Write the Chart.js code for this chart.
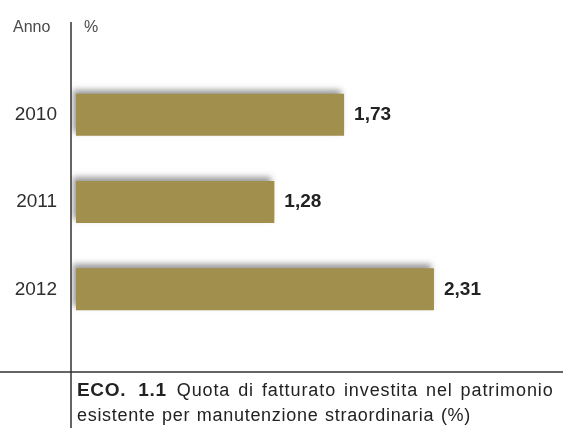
<!DOCTYPE html>
<html lang="it">
<head>
<meta charset="utf-8">
<script src="https://cdn.jsdelivr.net/npm/chart.js@4/dist/chart.umd.min.js"></script>
<style>
  html, body { margin: 0; padding: 0; background: #fff; }
  #wrap { position: relative; width: 568px; height: 428px; overflow: hidden; font-family: "Liberation Sans", Arial, sans-serif; }
  #chart { position: absolute; left: 0; top: 0; }
  .head { position: absolute; top: 18px; font-size: 16px; color: #4a4a4a; letter-spacing: 0; }
  #caption { position: absolute; left: 77px; top: 377px; font-size: 18px; line-height: 25px; color: #222; white-space: nowrap; letter-spacing: 0.7px; word-spacing: 1px; }
  #caption b { font-size: 19px; word-spacing: 6px; margin-right: 10px; }
  #caption .l1 { letter-spacing: 0.9px; word-spacing: 2px; }
</style>
</head>
<body>
<div id="wrap">
  <canvas id="chart" width="568" height="428"></canvas>
  <div class="head" style="left:13px">Anno</div>
  <div class="head" style="left:84px">%</div>
  <div id="caption"><b>ECO. 1.1</b><span class="l1">Quota di fatturato investita nel patrimonio</span><br>esistente per manutenzione straordinaria (%)</div>
</div>
<script>
// Quota di fatturato per manutenzione straordinaria, per anno (%)
const years = ['2010', '2011', '2012'];
const shares = [1.73, 1.28, 2.31];

const BAR_COLOR = '#a18f4d';
const INK = '#222';

const fmt = (v) => v.toFixed(2).replace('.', ',');

// soft grey drop shadow up/left of each bar, as in the printed figure
const barShadow = {
  id: 'barShadow',
  beforeDatasetDraw(chart) {
    const ctx = chart.ctx;
    ctx.save();
    ctx.shadowColor = 'rgba(70,70,70,0.55)';
    ctx.shadowBlur = 6;
    ctx.shadowOffsetX = -3;
    ctx.shadowOffsetY = -4;
  },
  afterDatasetDraw(chart) {
    chart.ctx.restore();
  },
};

const valueLabels = {
  id: 'valueLabels',
  afterDatasetsDraw(chart) {
    const ctx = chart.ctx;
    const meta = chart.getDatasetMeta(0);
    ctx.save();
    ctx.font = 'bold 19px "Liberation Sans", Arial, sans-serif';
    ctx.fillStyle = INK;
    ctx.textAlign = 'left';
    ctx.textBaseline = 'middle';
    meta.data.forEach((bar, i) => {
      ctx.fillText(fmt(shares[i]), bar.x + 10, bar.y);
    });
    ctx.restore();
  },
};

// axis rule running through the caption, plus the rule above the caption
const frameLines = {
  id: 'frameLines',
  afterDraw(chart) {
    const ctx = chart.ctx;
    const x = chart.chartArea.left;
    ctx.save();
    ctx.strokeStyle = '#333';
    ctx.lineWidth = 1.5;
    ctx.beginPath();
    ctx.moveTo(x, 22);
    ctx.lineTo(x, chart.height);
    ctx.moveTo(0, 372);
    ctx.lineTo(563, 372);
    ctx.stroke();
    ctx.restore();
  },
};

new Chart(document.getElementById('chart'), {
  type: 'bar',
  data: {
    labels: years,
    datasets: [{
      data: shares,
      backgroundColor: BAR_COLOR,
      borderWidth: 0,
      barPercentage: 0.48,
      categoryPercentage: 1,
    }],
  },
  options: {
    indexAxis: 'y',
    responsive: false,
    animation: false,
    layout: { padding: { top: 71, bottom: 95, left: 0, right: 24 } },
    scales: {
      x: { display: false, min: -0.032, max: 3.02 },
      y: {
        afterFit: (scale) => { scale.width = 71; },
        border: { display: false },
        grid: { display: false },
        ticks: { padding: 6, color: '#2e2e2e', font: { family: '"Liberation Sans", Arial, sans-serif', size: 19 } },
      },
    },
    plugins: { legend: { display: false }, tooltip: { enabled: false } },
  },
  plugins: [barShadow, valueLabels, frameLines],
});
</script>
</body>
</html>
